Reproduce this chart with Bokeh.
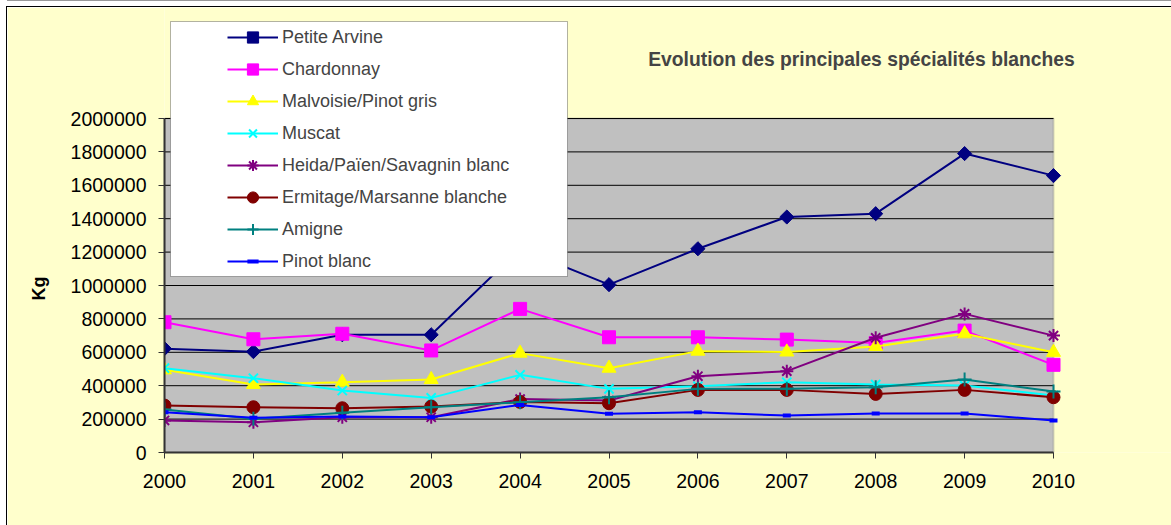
import math
from bokeh.plotting import figure
from bokeh.models import (Range1d, FixedTicker, NumeralTickFormatter, Legend,
                          LegendItem, Label, BoxAnnotation, Title)
from bokeh.embed import file_html
from bokeh.resources import INLINE

years = [2000, 2001, 2002, 2003, 2004, 2005, 2006, 2007, 2008, 2009, 2010]
y_ticks = [0, 200000, 400000, 600000, 800000, 1000000, 1200000, 1400000,
           1600000, 1800000, 2000000]

petite_arvine = [622000, 604000, 705000, 705000, 1220000, 1005000, 1220000, 1410000, 1430000, 1790000, 1658000]
chardonnay = [780000, 678000, 711000, 611000, 860000, 690000, 690000, 676000, 655000, 730000, 525000]
malvoisie = [495000, 407000, 421000, 437000, 595000, 505000, 607000, 602000, 635000, 711000, 600000]
muscat = [505000, 445000, 371000, 327000, 465000, 381000, 397000, 421000, 407000, 401000, 341000]
heida = [192000, 181000, 211000, 211000, 320000, 311000, 457000, 487000, 687000, 830000, 700000]
ermitage = [281000, 271000, 265000, 275000, 303000, 295000, 375000, 375000, 351000, 375000, 331000]
amigne = [258000, 202000, 238000, 271000, 301000, 331000, 381000, 381000, 391000, 437000, 365000]
pinot_blanc = [241000, 208000, 215000, 211000, 285000, 232000, 241000, 221000, 233000, 233000, 192000]

names = ["Petite Arvine", "Chardonnay", "Malvoisie/Pinot gris", "Muscat",
         "Heida/Païen/Savagnin blanc", "Ermitage/Marsanne blanche", "Amigne",
         "Pinot blanc"]
values = [petite_arvine, chardonnay, malvoisie, muscat, heida, ermitage,
          amigne, pinot_blanc]
colors = ["#000080", "#FF00FF", "#FFFF00", "#00FFFF", "#800080", "#800000",
          "#008080", "#0000FF"]
markers = ["square", "square", "triangle", "x", "asterisk", "circle", "cross", "dash"]
sizes = [10, 13, 14, 13, 13, 13, 14, 8]
angles = [math.pi / 4, 0, 0, 0, 0, 0, 0, 0]
mwidths = [1, 1, 1, 2, 2, 1, 2, 4]

FONT = "Liberation Sans"

# layout (pixels, page coordinates converted to canvas coordinates)
OX, OY = 7, 7                     # canvas offset inside the page (chart border)
W, H = 1171 - OX, 525 - OY
LEFT = 164 - OX                   # plot-area left edge
BOTTOM = H - (452 - OY)           # space below plot area
PLOT_W, PLOT_H = 889, 334         # grey plot-area size
FRAME_W, FRAME_H = W - LEFT, H - BOTTOM

x_end = years[0] + (years[-1] - years[0]) * FRAME_W / PLOT_W
y_end = y_ticks[-1] * FRAME_H / PLOT_H

p = figure(width=W, height=H, output_backend="svg", toolbar_location=None,
           title=None,
           x_range=Range1d(years[0], x_end), y_range=Range1d(0, y_end),
           min_border_left=LEFT, min_border_right=0, min_border_top=0,
           min_border_bottom=BOTTOM, background_fill_color="#FFFFCC",
           border_fill_color="#FFFFCC")
p.styles = {"margin-left": f"{OX}px", "margin-top": f"{OY}px",
            "outline": "1px solid black",
            "box-shadow": "0 -6px 0 0 #ffffff, 0 -7px 0 0 #999999"}
p.outline_line_color = None
p.xgrid.visible = False
p.ygrid.visible = False

# grey plot area
p.add_layout(BoxAnnotation(left=years[0], right=years[-1], bottom=y_ticks[0],
                           top=y_ticks[-1], fill_color="#C0C0C0", fill_alpha=1,
                           line_color="#808080", line_width=2, level="underlay"))

# horizontal gridlines
p.segment(x0=[years[0]] * len(y_ticks), x1=[years[-1]] * len(y_ticks),
          y0=y_ticks, y1=y_ticks, line_color="black", line_width=1)

p.xaxis.ticker = FixedTicker(ticks=years)
p.yaxis.ticker = FixedTicker(ticks=y_ticks)
p.yaxis.formatter = NumeralTickFormatter(format="0")
p.xaxis.bounds = (years[0], years[-1])
p.yaxis.bounds = (y_ticks[0], y_ticks[-1])

for ax in (p.xaxis, p.yaxis):
    ax.axis_line_color = "#333333"
    ax.axis_line_width = 2
    ax.major_tick_line_color = "#333333"
    ax.major_tick_out = 6
    ax.major_tick_in = 0
    ax.minor_tick_out = 0
    ax.minor_tick_in = 0
    ax.major_label_text_font = FONT
    ax.major_label_text_font_size = "19.5px"
    ax.major_label_text_color = "black"

p.yaxis.major_label_standoff = 12
p.xaxis.major_label_standoff = 15

# y-axis title, placed beside the grey plot area
p.add_layout(Title(text="Kg", align="left", offset=152, standoff=38,
                   text_font=FONT, text_font_style="bold",
                   text_font_size="18px", text_color="black"), "left")

items = []
for name, vals, c, mk, sz, ang, mw in zip(names, values, colors, markers, sizes, angles, mwidths):
    ln = p.line(years, vals, line_color=c, line_width=2)
    sc = p.scatter(years, vals, marker=mk, size=sz, angle=ang, fill_color=c,
                   line_color=c, line_width=mw)
    items.append(LegendItem(label=name, renderers=[ln, sc]))

# legend box
p.add_layout(BoxAnnotation(left=170 - OX, right=567 - OX, top=21 - OY,
                           bottom=276 - OY,
                           left_units="canvas", right_units="canvas",
                           top_units="canvas", bottom_units="canvas",
                           fill_color="white", fill_alpha=1,
                           line_color="black", line_width=1))

legend = Legend(items=items, location=(63, 177), padding=0, margin=0,
                spacing=4, glyph_width=51, glyph_height=28, label_height=28,
                label_standoff=4, label_text_font=FONT,
                label_text_font_size="18px", background_fill_alpha=0,
                border_line_alpha=0)
p.add_layout(legend, "center")

p.add_layout(Label(x=697, y=393, x_units="screen", y_units="screen",
                   text="Evolution des principales spécialités blanches",
                   text_font=FONT, text_font_style="bold",
                   text_font_size="19.3px", text_align="center",
                   text_baseline="middle"))

open("out.html", "w").write(file_html(p, INLINE))
